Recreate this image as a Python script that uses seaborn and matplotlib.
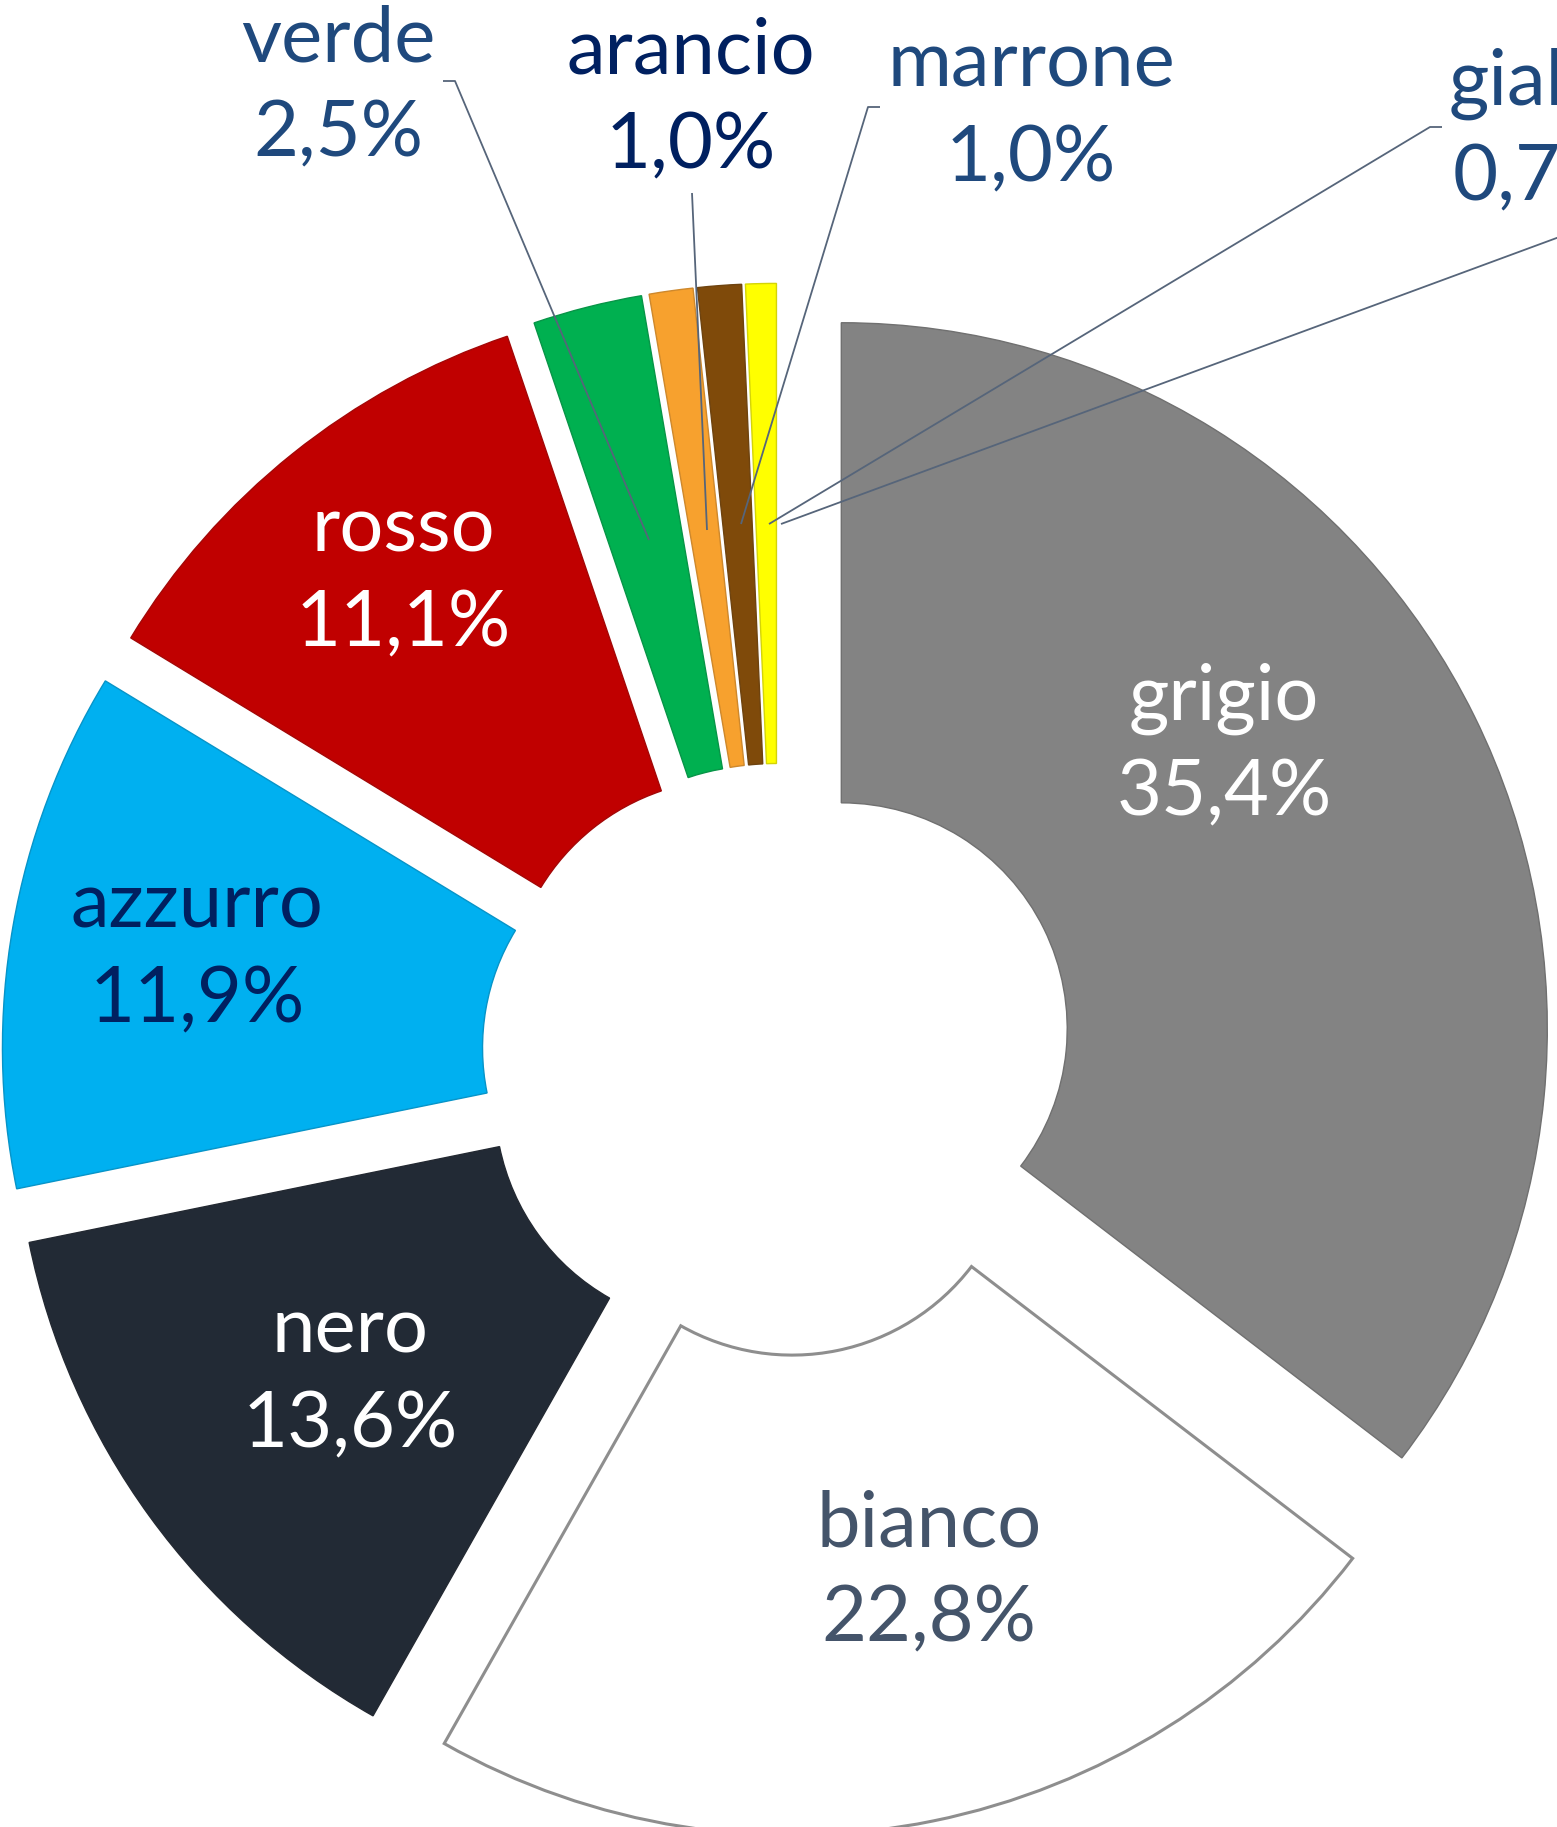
import matplotlib
matplotlib.use("Agg")
import matplotlib.pyplot as plt
import seaborn as sns

# data
colori = ["grigio", "bianco", "nero", "azzurro", "rosso", "verde", "arancio", "marrone", "giallo"]
quote = [35.4, 22.8, 13.6, 11.9, 11.1, 2.5, 1.0, 1.0, 0.7]
fill = ["#838383", "#FFFFFF", "#222A35", "#00B0F0", "#C00000", "#00B050", "#F7A12E", "#7F4A0A", "#FFFF00"]
txt_col = ["white", "#44546A", "white", "#002060", "white", "#1F497D", "#002060", "#1F497D", "#1F497D"]

# layout, in pixels of the 1557x1827 picture
W, H = 1557, 1827
CX, CY, R = 778, 1060, 706
label_px = [(1224, 746), (929, 1572), (350, 1378), (197, 953), (403, 577),
            (338, 87), (691, 99), (1031, 112), (1449, 131)]
leaders = {
    "verde": [(443, 81), (455, 81), (649, 540)],
    "arancio": [(692, 193), (707, 530)],
    "marrone": [(880, 107), (868, 107), (741, 524)],
    "giallo": [(1442, 127), (1430, 127), (769, 524)],
    "extra": [(1600, 222), (781, 524)],
}


def to_data(px, py):
    return (px - CX) / R, (CY - py) / R


sns.set_theme(style="white")
plt.rcParams["font.family"] = ["Lato", "DejaVu Sans"]

fig = plt.figure(figsize=(W / 100, H / 100), dpi=100)
ax = fig.add_axes([0, 0, 1, 1])

wedges, _ = ax.pie(quote, colors=fill, startangle=90, counterclock=False,
                   explode=[0.1] * len(quote), radius=1,
                   wedgeprops=dict(width=0.68, linewidth=0))
wedges[1].set_edgecolor("#8E8E8E")
wedges[1].set_linewidth(2.2)
for w, c in zip(wedges, fill):
    if c != "#FFFFFF":
        w.set_edgecolor(sns.dark_palette(c, n_colors=6)[4])
        w.set_linewidth(1.0)

for name, pts in leaders.items():
    xs, ys = zip(*[to_data(*p) for p in pts])
    ax.plot(xs, ys, color="#56657A", lw=1.3, solid_capstyle="butt", zorder=3)

for i, (name, val) in enumerate(zip(colori, quote)):
    x, y = to_data(*label_px[i])
    s = f"{name}\n{val:.1f}%".replace(".", ",")
    ha = "left" if name == "giallo" else "center"
    ax.text(x, y, s, ha=ha, va="center", multialignment="center",
            fontsize=56, color=txt_col[i], linespacing=1.42, zorder=4)

ax.set_xlim(-CX / R, (W - CX) / R)
ax.set_ylim((CY - H) / R, CY / R)
ax.set_aspect("equal")
ax.axis("off")

fig.savefig("out.png", dpi=100, facecolor="white")
